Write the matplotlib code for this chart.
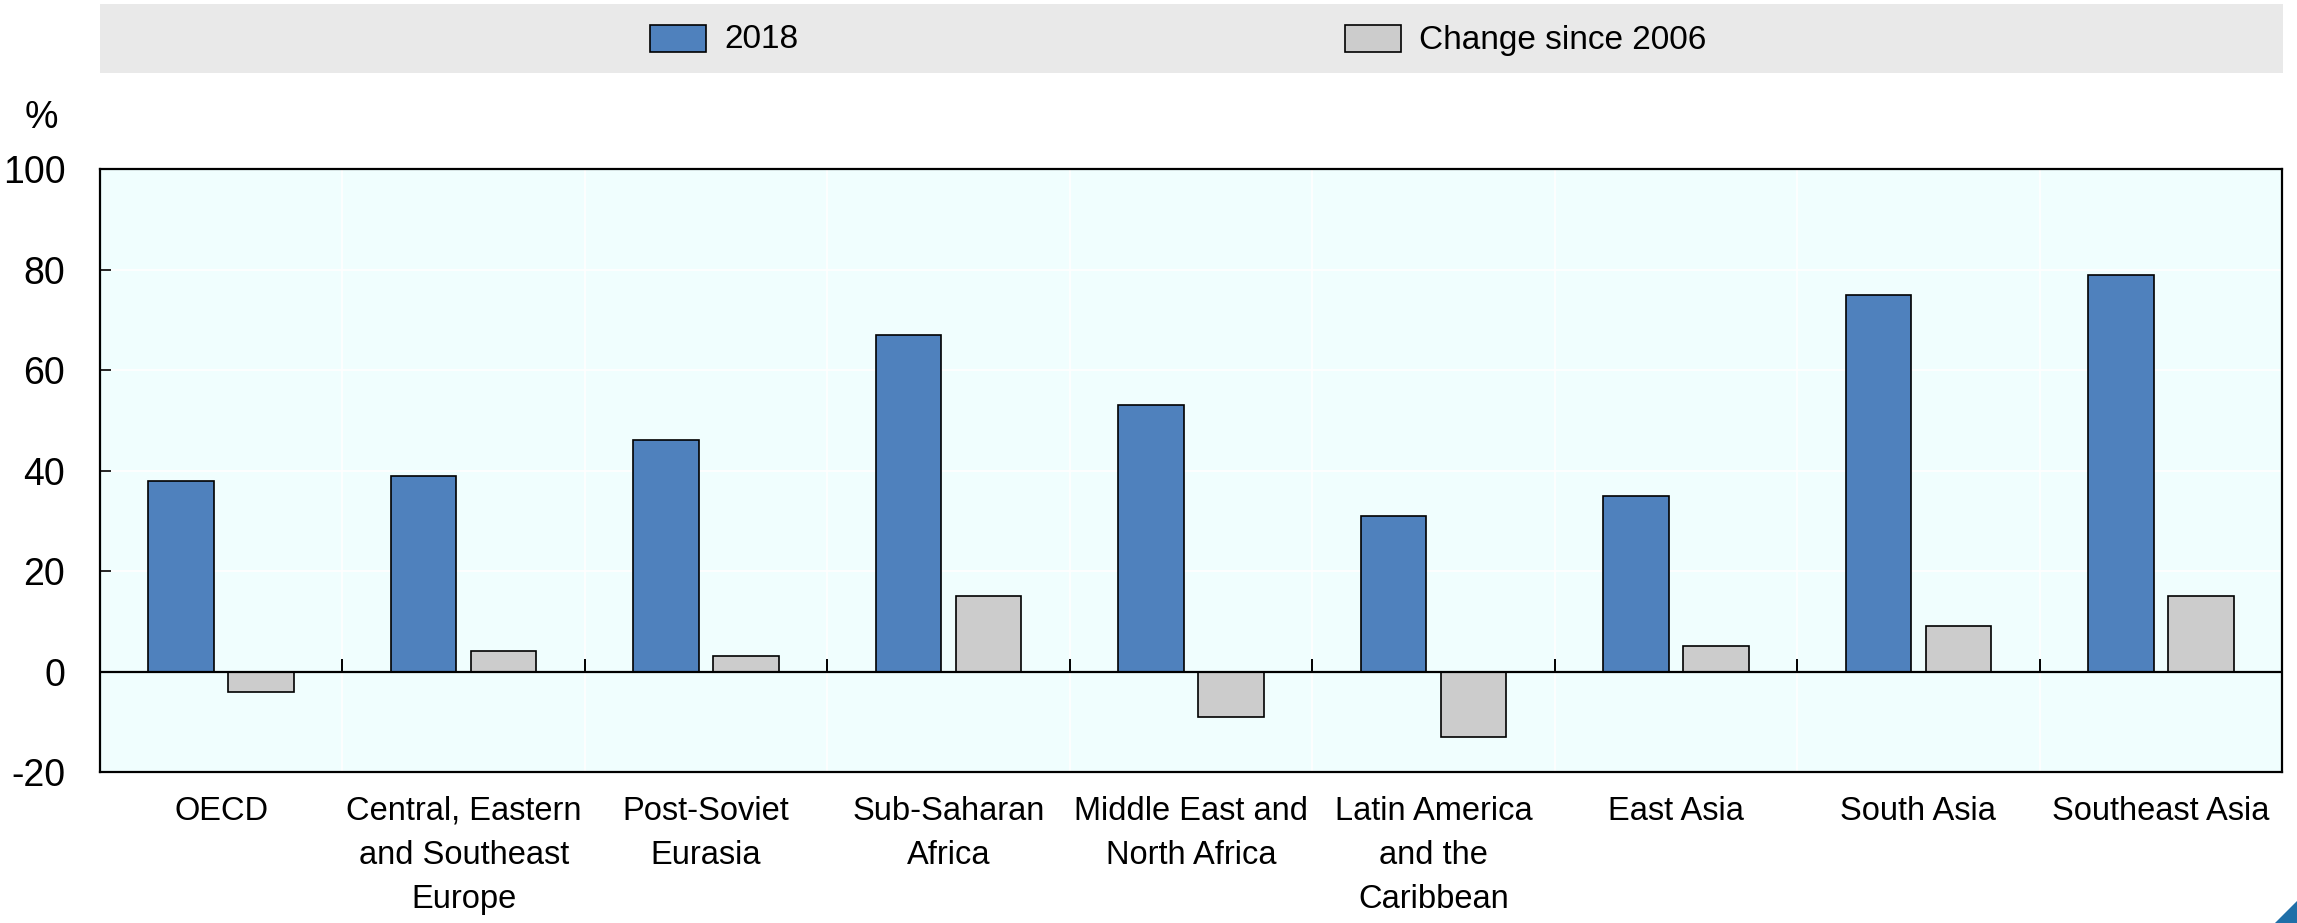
import numpy as np
import matplotlib
matplotlib.use("Agg")
import matplotlib.pyplot as plt
from matplotlib.patches import Rectangle, Polygon

plt.rcParams['font.family'] = ['Liberation Sans', 'DejaVu Sans']

# Data
regions = ["OECD", "Central, Eastern\nand Southeast\nEurope", "Post-Soviet\nEurasia",
           "Sub-Saharan\nAfrica", "Middle East and\nNorth Africa", "Latin America\nand the\nCaribbean",
           "East Asia", "South Asia", "Southeast Asia"]
share_2018 = [38, 39, 46, 67, 53, 31, 35, 75, 79]
change_2006 = [-4, 4, 3, 15, -9, -13, 5, 9, 15]
yticks = [-20, 0, 20, 40, 60, 80, 100]

blue = "#4F81BD"
grey = "#CCCCCC"

W, H = 2297, 923
fig = plt.figure(figsize=(W / 100, H / 100), dpi=100)
ax = fig.add_axes([100 / W, 1 - 772 / H, (2282 - 100) / W, (772 - 169) / H])
ax.set_facecolor("#F0FEFE")

x = np.arange(len(regions))
bw = 0.27
off = 0.165
ax.bar(x - off, share_2018, bw, color=blue, edgecolor="black", linewidth=1.2, zorder=3)
ax.bar(x + off, change_2006, bw, color=grey, edgecolor="black", linewidth=1.2, zorder=3)

ax.set_xlim(-0.5, len(regions) - 0.5)
ax.set_ylim(-20, 100)
ax.set_yticks(yticks)
ax.set_yticklabels([str(v) for v in yticks])
ax.tick_params(axis="y", direction="in", length=8, width=1.2, labelsize=27, pad=25)

# white grid
for v in yticks[1:-1]:
    ax.axhline(v, color="white", linewidth=1.2, zorder=1)
for b in x[:-1] + 0.5:
    ax.axvline(b, color="white", linewidth=1.2, zorder=1)

# zero line and boundary ticks on it
ax.axhline(0, color="black", linewidth=1.6, zorder=4)
ax.vlines(x[:-1] + 0.5, 0, 2.5, color="black", linewidth=1.4, zorder=4)

ax.set_xticks(x)
ax.set_xticklabels(regions, fontsize=23.5, linespacing=1.55)
ax.tick_params(axis="x", length=0, pad=17)
for s in ax.spines.values():
    s.set_linewidth(1.6)

fig.text(25 / W, 1 - 118 / H, "%", fontsize=27, ha="left", va="center")

# legend band
fig.patches.append(Rectangle((100 / W, 1 - 73 / H), (2283 - 100) / W, 69 / H,
                             transform=fig.transFigure, facecolor="#E9E9E9", edgecolor="none"))
for x0, col, lab in [(650, blue, "2018"), (1345, grey, "Change since 2006")]:
    fig.patches.append(Rectangle((x0 / W, 1 - 52 / H), 56 / W, 27 / H, transform=fig.transFigure,
                                 facecolor=col, edgecolor="black", linewidth=1.2))
    fig.text((x0 + 74) / W, 1 - 40 / H, lab, fontsize=24, ha="left", va="center")

# corner logo fragment
fig.patches.append(Polygon([(2297 / W, 0), (2297 / W, 22 / H), (2275 / W, 0)], closed=True,
                           transform=fig.transFigure, facecolor="#1F6FA8", edgecolor="none"))

fig.savefig("out.png", dpi=100)
